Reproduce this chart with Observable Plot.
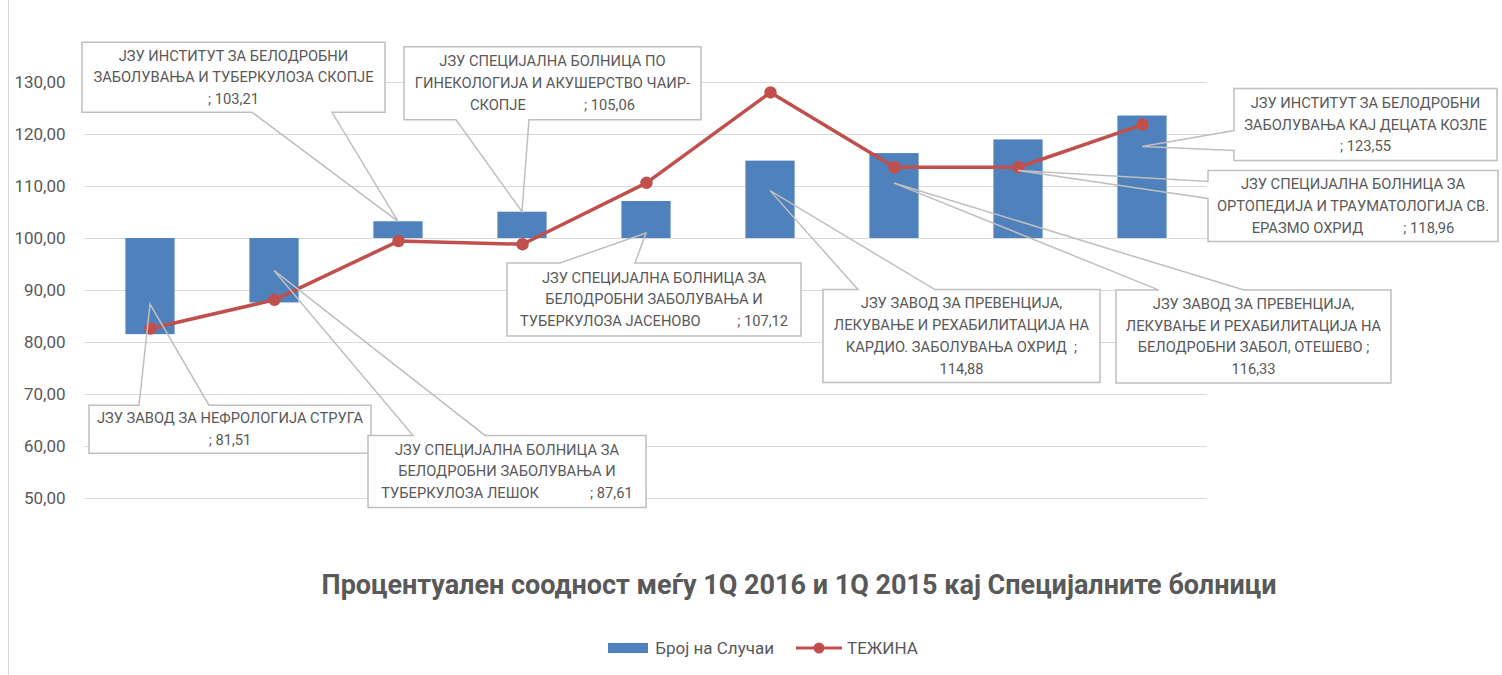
<!DOCTYPE html>
<html><head><meta charset="utf-8">
<script src="https://cdn.jsdelivr.net/npm/d3@7"></script>
<script src="https://cdn.jsdelivr.net/npm/@observablehq/plot@0.6"></script>
<style>
body{margin:0;background:#fff;font-family:Roboto,"Noto Sans",sans-serif;}
#wrap{position:relative;width:1502px;height:675px;overflow:hidden;background:#fff;}
#frame{position:absolute;left:8px;top:0;height:675px;border-left:1.5px solid #d9d9d9;}
#chart{position:absolute;left:0;top:0;}
#title{position:absolute;left:0;width:1598px;top:569px;text-align:center;font-weight:bold;font-size:27px;line-height:32px;color:#595959;}
#legend{position:absolute;left:0;width:1526px;top:638px;display:flex;justify-content:center;align-items:center;font-size:17px;color:#595959;}
#legend .item{display:flex;align-items:center;margin:0 11px;}
</style>
</head><body>
<div id="wrap"><div id="frame"></div><div id="chart"></div><div id="title"></div><div id="legend"></div></div>
<script>
// ---- data ----
const names = [
  "ЈЗУ Завод за нефрологија Струга",
  "ЈЗУ Специјална болница за белодробни заболувања и туберкулоза Лешок",
  "ЈЗУ Институт за белодробни заболувања и туберкулоза Скопје",
  "ЈЗУ Специјална болница по гинекологија и акушерство Чаир-Скопје",
  "ЈЗУ Специјална болница за белодробни заболувања и туберкулоза Јасеново",
  "ЈЗУ Завод за превенција, лекување и рехабилитација на кардио. заболувања Охрид",
  "ЈЗУ Завод за превенција, лекување и рехабилитација на белодробни забол, Отешево",
  "ЈЗУ Специјална болница за ортопедија и трауматологија Св. Еразмо Охрид",
  "ЈЗУ Институт за белодробни заболувања кај децата Козле"
];
const cases = [81.51, 87.61, 103.21, 105.06, 107.12, 114.88, 116.33, 118.96, 123.55]; // Број на Случаи
const weight = [82.7, 88.2, 99.5, 98.9, 110.7, 128.1, 113.7, 113.7, 121.9];          // ТЕЖИНА
const yTicks = [50, 60, 70, 80, 90, 100, 110, 120, 130];
const baseValue = 100;
const labelLines = [
  ["ЈЗУ ЗАВОД ЗА НЕФРОЛОГИЈА СТРУГА", "; {v}"],
  ["ЈЗУ СПЕЦИЈАЛНА БОЛНИЦА ЗА", "БЕЛОДРОБНИ ЗАБОЛУВАЊА И", "ТУБЕРКУЛОЗА ЛЕШОК              ; {v}"],
  ["ЈЗУ ИНСТИТУТ ЗА БЕЛОДРОБНИ", "ЗАБОЛУВАЊА И ТУБЕРКУЛОЗА СКОПЈЕ", "; {v}"],
  ["ЈЗУ СПЕЦИЈАЛНА БОЛНИЦА ПО", "ГИНЕКОЛОГИЈА И АКУШЕРСТВО ЧАИР-", "СКОПЈЕ                ; {v}"],
  ["ЈЗУ СПЕЦИЈАЛНА БОЛНИЦА ЗА", "БЕЛОДРОБНИ ЗАБОЛУВАЊА И", "ТУБЕРКУЛОЗА ЈАСЕНОВО          ; {v}"],
  ["ЈЗУ ЗАВОД ЗА ПРЕВЕНЦИЈА,", "ЛЕКУВАЊЕ И РЕХАБИЛИТАЦИЈА НА", "КАРДИО. ЗАБОЛУВАЊА ОХРИД  ;", "{v}"],
  ["ЈЗУ ЗАВОД ЗА ПРЕВЕНЦИЈА,", "ЛЕКУВАЊЕ И РЕХАБИЛИТАЦИЈА НА", "БЕЛОДРОБНИ ЗАБОЛ, ОТЕШЕВО ;", "{v}"],
  ["ЈЗУ СПЕЦИЈАЛНА БОЛНИЦА ЗА", "ОРТОПЕДИЈА И ТРАУМАТОЛОГИЈА СВ.", "ЕРАЗМО ОХРИД           ; {v}"],
  ["ЈЗУ ИНСТИТУТ ЗА БЕЛОДРОБНИ", "ЗАБОЛУВАЊА КАЈ ДЕЦАТА КОЗЛЕ", "; {v}"]
];
const titleText = "Процентуален соодност меѓу 1Q 2016 и 1Q 2015 кај Специјалните болници";
const seriesNames = ["Број на Случаи", "ТЕЖИНА"];

// ---- callout layout (pixel offsets from each bar end) ----
const calloutLayout = [
  {tip: -30, box: [-61, 71, 221, 119], edge: "top", base: [-11, 59]},
  {tip: -32, box: [94, 133, 372, 205], edge: "top", base: [139, 211]},
  {tip: 0, box: [-316, -179, -13, -109], edge: "bottom", base: [-146, -66]},
  {tip: 0, box: [-118, -165, 179, -92], edge: "bottom", base: [-66, 7]},
  {tip: 32, box: [-139, 62, 155, 135], edge: "top", base: [-86, -11]},
  {tip: 30, box: [53, 129, 330, 222], edge: "top", base: [88, 165]},
  {tip: 30, box: [222, 137, 497, 230], edge: "top", base: [265, 350]},
  {tip: 31, box: [190, 31, 480, 102], edge: "left", base: [42, 59]},
  {tip: 31, box: [92, -27, 355, 45], edge: "left", base: [15, 35]}
];

const fmt = v => v.toFixed(2).replace(".", ",");
const rows = names.map((n, i) => ({name: n, cases: cases[i], weight: weight[i]}));
const blue = "#4f81bd", red = "#c0504d", grid = "#d9d9d9", textCol = "#595959";

const chart = Plot.plot({
  width: 1502, height: 540,
  marginLeft: 84, marginRight: 295, marginTop: 82, marginBottom: 42,
  style: {fontFamily: "Roboto", fontSize: "17px", color: textCol, background: "transparent"},
  x: {domain: names, axis: null, padding: 0},
  y: {domain: [50, 130], ticks: yTicks, tickFormat: fmt, tickSize: 0, tickPadding: 19, label: null},
  marks: [
    Plot.ruleY(yTicks, {stroke: grid, strokeWidth: 1.2}),
    Plot.barY(rows, {x: "name", y1: () => baseValue, y2: "cases", fill: blue, insetLeft: 37.4, insetRight: 37.4}),
    Plot.line(rows, {x: "name", y: "weight", stroke: red, strokeWidth: 3.5}),
    Plot.dot(rows, {x: "name", y: "weight", r: 5.5, fill: red, stroke: red})
  ]
});
document.getElementById("chart").appendChild(chart);

// ---- callouts drawn through the plot's own scales ----
const xs = chart.scale("x"), ys = chart.scale("y");
const g = d3.select(chart).append("g")
  .attr("font-family", "Roboto").attr("font-size", 14.7).attr("fill", textCol);
rows.forEach((d, i) => {
  const L = calloutLayout[i];
  const ax = xs.apply(d.name) + xs.bandwidth / 2, ay = ys.apply(d.cases);
  const tx = ax, ty = ay + L.tip;
  const x0 = ax + L.box[0], y0 = ay + L.box[1], x1 = ax + L.box[2], y1 = ay + L.box[3];
  const b = L.base;
  let pts;
  if (L.edge === "top") pts = [[x0, y0], [ax + b[0], y0], [tx, ty], [ax + b[1], y0], [x1, y0], [x1, y1], [x0, y1]];
  else if (L.edge === "bottom") pts = [[x0, y0], [x1, y0], [x1, y1], [ax + b[1], y1], [tx, ty], [ax + b[0], y1], [x0, y1]];
  else pts = [[x0, y0], [x1, y0], [x1, y1], [x0, y1], [x0, ay + b[1]], [tx, ty], [x0, ay + b[0]]];
  g.append("rect").attr("x", x0).attr("y", y0).attr("width", x1 - x0).attr("height", y1 - y0).attr("fill", "#fff");
  g.append("path").attr("d", "M" + pts.map(p => p.join(",")).join("L") + "Z")
    .attr("fill", "none").attr("stroke", "#bfbfbf").attr("stroke-width", 1.5);
  const lines = labelLines[i].map(s => s.replace("{v}", fmt(d.cases)));
  const cy = (y0 + y1) / 2, n = lines.length;
  lines.forEach((t, k) => {
    g.append("text").attr("x", (x0 + x1) / 2).attr("y", cy + (k - (n - 1) / 2) * 21.8)
      .attr("text-anchor", "middle").attr("dominant-baseline", "central")
      .attr("xml:space", "preserve").style("white-space", "pre").text(t);
  });
});

// ---- title & legend ----
document.getElementById("title").textContent = titleText;
const leg = document.getElementById("legend");
leg.innerHTML =
  `<div class="item"><svg width="40" height="12" style="margin-right:7px"><rect x="0" y="1" width="40" height="10" fill="${blue}"/></svg><span>${seriesNames[0]}</span></div>` +
  `<div class="item"><svg width="46" height="14" style="margin-right:5px"><line x1="0" y1="7" x2="46" y2="7" stroke="${red}" stroke-width="3"/><circle cx="23" cy="7" r="5.5" fill="${red}"/></svg><span>${seriesNames[1]}</span></div>`;
</script>
</body></html>
